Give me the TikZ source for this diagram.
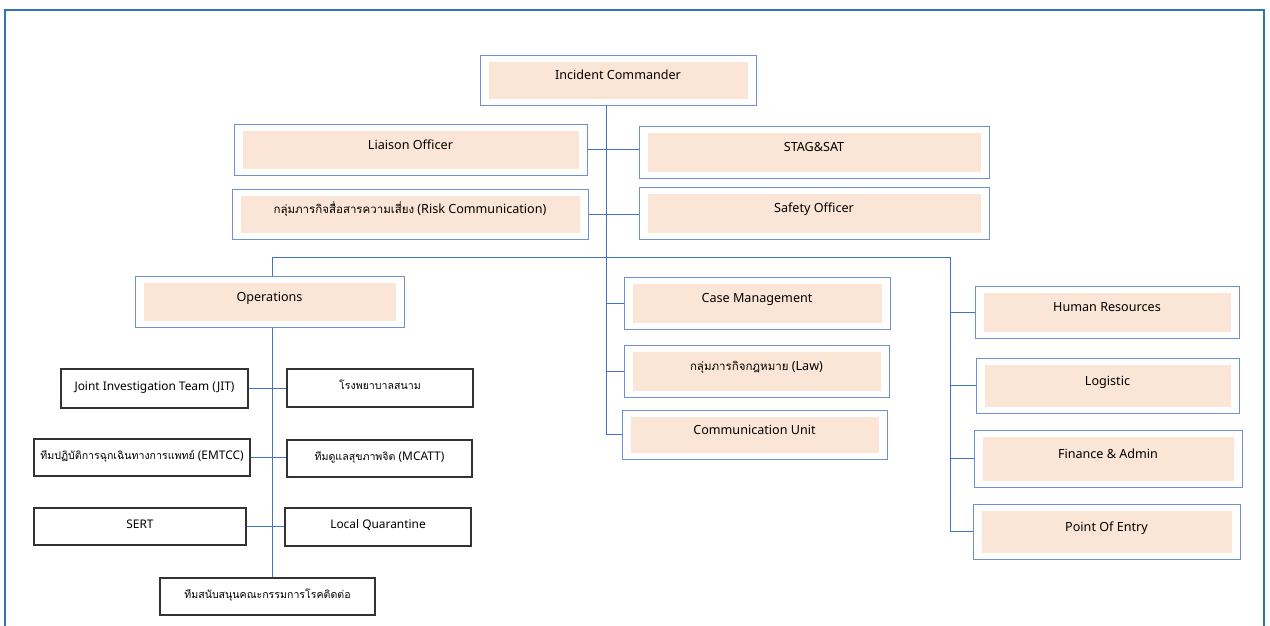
\documentclass[tikz,border=0pt]{standalone}
\usepackage{fontspec}
\setmainfont{Noto Sans}
\newfontfamily\thaifont[Script=Thai]{Loma}
\definecolor{framec}{HTML}{2E75B6}
\definecolor{linec}{HTML}{4472C4}
\definecolor{boxline}{HTML}{6F8FD3}
\definecolor{peach}{HTML}{FBE5D6}
\definecolor{darkline}{HTML}{333333}
\begin{document}
\begin{tikzpicture}[x=1pt,y=-1pt,
  txt/.style={font=\fontsize{12.6}{14}\selectfont, text height=8pt, text depth=9pt},
  obox/.style={txt, draw=boxline, line width=1pt, fill=white, inner sep=0pt,
    path picture={\fill[peach]
      ([shift={(8.5pt,-6.5pt)}]path picture bounding box.north west) rectangle
      ([shift={(-8.5pt,6.5pt)}]path picture bounding box.south east);}},
  wbox/.style={font=\fontsize{11.9}{14}\selectfont, draw=darkline, line width=1.1pt,
    fill=white, inner sep=0pt, text height=8pt, text depth=5pt},
  conn/.style={draw=linec, line width=0.9pt}]
\useasboundingbox (0,0) rectangle (1270,625);
% outer frame
\draw[framec, line width=2pt] (5,640) -- (5,10) -- (1264,10) -- (1264,640);

% command staff
\node[obox, minimum width=276pt, minimum height=50pt] (ic) at (618,80) {Incident Commander};
\node[obox, minimum width=353pt, minimum height=51pt] (liaison) at (410.5,149.5) {Liaison Officer};
\node[obox, minimum width=350pt, minimum height=52pt] (stag) at (814,152) {STAG\&SAT};
\node[obox, minimum width=356pt, minimum height=50pt] (risk) at (410,214) {{\thaifont\fontsize{11.5}{14}\selectfont กลุ่มภารกิจสื่อสารความเสี่ยง} (Risk Communication)};
\node[obox, minimum width=350pt, minimum height=52pt] (safety) at (814,213) {Safety Officer};

% general staff
\node[obox, minimum width=269pt, minimum height=51pt] (ops) at (269.5,301.5) {Operations};
\node[obox, minimum width=266pt, minimum height=52pt] (cm) at (757,303) {Case Management};
\node[obox, minimum width=265pt, minimum height=52pt] (law) at (756.5,371) {{\thaifont\fontsize{11.5}{14}\selectfont กลุ่มภารกิจกฎหมาย} (Law)};
\node[obox, minimum width=265pt, minimum height=49pt] (comm) at (754.5,434.5) {Communication Unit};
\node[obox, minimum width=264pt, minimum height=52pt] (hr) at (1107,312) {Human Resources};
\node[obox, minimum width=263pt, minimum height=55pt] (logi) at (1107.5,385.5) {Logistic};
\node[obox, minimum width=268pt, minimum height=57pt] (fin) at (1108,458.5) {Finance \& Admin};
\node[obox, minimum width=267pt, minimum height=55pt] (poe) at (1106.5,531.5) {Point Of Entry};

% operations teams
\node[wbox, minimum width=187pt, minimum height=39pt] (jit) at (154.5,388.5) {Joint Investigation Team (JIT)};
\node[wbox, minimum width=186pt, minimum height=38pt] (hosp) at (380,388) {\thaifont\fontsize{10.6}{14}\selectfont โรงพยาบาลสนาม};
\node[wbox, minimum width=216pt, minimum height=37pt] (emtcc) at (142,457.5) {{\thaifont\fontsize{10.6}{14}\selectfont ทีมปฏิบัติการฉุกเฉินทางการแพทย์} (EMTCC)};
\node[wbox, minimum width=185pt, minimum height=37pt] (mcatt) at (379.5,458.5) {{\thaifont\fontsize{10.6}{14}\selectfont ทีมดูแลสุขภาพจิต} (MCATT)};
\node[wbox, minimum width=212pt, minimum height=37pt] (sert) at (140,526.5) {SERT};
\node[wbox, minimum width=186pt, minimum height=38pt] (lq) at (378,527) {Local Quarantine};
\node[wbox, minimum width=215pt, minimum height=37pt] (csup) at (267.5,596.5) {\thaifont\fontsize{10.6}{14}\selectfont ทีมสนับสนุนคณะกรรมการโรคติดต่อ};

% connector guides
\coordinate (spine) at (606,0);
\coordinate (busl) at (272,257);
\coordinate (busr) at (950,257);

% command spine and staff links
\draw[conn] (ic.south -| spine) -- (spine |- comm.west) -- (comm.west);
\draw[conn] (spine |- cm.west) -- (cm.west);
\draw[conn] (spine |- law.west) -- (law.west);
\draw[conn] (liaison.east) -- (liaison.east -| stag.west);
\draw[conn] (risk.east) -- (risk.east -| safety.west);

% section bus
\draw[conn] (busl) -- (busr);
\draw[conn] (busl) -- (busl |- ops.north);
\draw[conn] (busl |- ops.south) -- (busl |- csup.north);
\draw[conn] (busr) -- (busr |- poe.west) -- (poe.west);
\draw[conn] (busr |- hr.west) -- (hr.west);
\draw[conn] (busr |- logi.west) -- (logi.west);
\draw[conn] (busr |- fin.west) -- (fin.west);

% operations pairs
\draw[conn] (jit.east) -- (jit.east -| hosp.west);
\draw[conn] (emtcc.east) -- (emtcc.east -| mcatt.west);
\draw[conn] (sert.east) -- (sert.east -| lq.west);
\end{tikzpicture}
\end{document}
